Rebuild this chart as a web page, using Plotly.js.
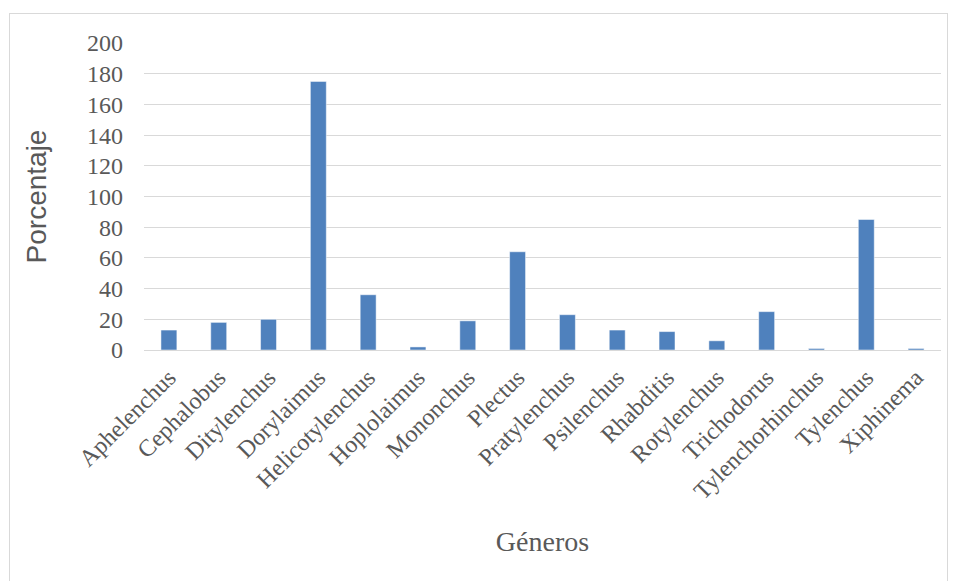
<!DOCTYPE html>
<html>
<head>
<meta charset="utf-8">
<script src="https://cdn.plot.ly/plotly-3.0.1.min.js"></script>
<style>
html,body{margin:0;padding:0;background:#fff;}
#wrap{position:relative;width:955px;height:581px;}
#frame{position:absolute;left:9px;top:13px;width:939px;height:575px;border:1px solid #d9d9d9;box-sizing:border-box;pointer-events:none;}
#chart{position:absolute;left:0;top:0;width:955px;height:581px;}
</style>
</head>
<body>
<div id="wrap">
<div id="chart"></div>
<div id="frame"></div>
</div>
<script>
const generos = ["Aphelenchus","Cephalobus","Ditylenchus","Dorylaimus","Helicotylenchus","Hoplolaimus","Mononchus","Plectus","Pratylenchus","Psilenchus","Rhabditis","Rotylenchus","Trichodorus","Tylenchorhinchus","Tylenchus","Xiphinema"];
const porcentaje = [13,18,20,175,36,2,19,64,23,13,12,6,25,1,85,1];
const yTicks = [0,20,40,60,80,100,120,140,160,180,200];

const serif = "Liberation Serif, DejaVu Serif, serif";
Plotly.newPlot("chart", [{
  type: "bar",
  x: generos,
  y: porcentaje,
  marker: {color: "#4f81bd", line: {color: "#ffffff", width: 0.5}},
  hoverinfo: "x+y"
}], {
  width: 955, height: 581,
  margin: {l: 144, r: 14, t: 43, b: 231},
  paper_bgcolor: "rgba(0,0,0,0)",
  plot_bgcolor: "#fff",
  bargap: 0.68,
  showlegend: false,
  xaxis: {
    type: "category",
    tickangle: -45,
    tickfont: {family: serif, size: 24, color: "#595959"},
    showgrid: false,
    showline: true, linecolor: "#d9d9d9", linewidth: 1,
    ticks: "",
    ticklabelstandoff: 3,
    title: {text: "Géneros", font: {family: serif, size: 28, color: "#595959"}, standoff: 28}
  },
  yaxis: {
    range: [0, 200],
    tickvals: yTicks,
    ticktext: yTicks.map(String),
    tickfont: {family: serif, size: 24, color: "#595959"},
    gridcolor: "#d9d9d9", gridwidth: 1,
    zeroline: false,
    ticks: "", ticklen: 0,
    ticklabelstandoff: 20,
    title: {text: "Porcentaje", font: {family: "Liberation Sans, Arial, sans-serif", size: 28, color: "#595959"}, standoff: 32}
  }
}, {displayModeBar: false, staticPlot: true});
</script>
</body>
</html>
